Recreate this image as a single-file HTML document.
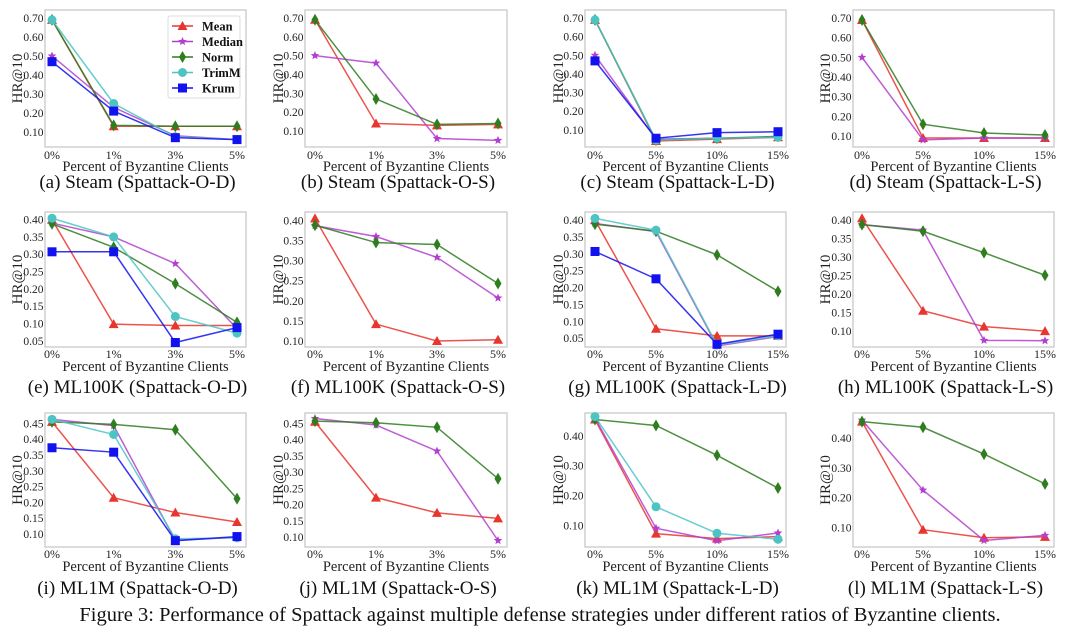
<!DOCTYPE html>
<html><head><meta charset="utf-8"><style>
body{margin:0;background:#fff}
svg{display:block;font-family:"Liberation Serif",serif}
</style></head><body>
<svg id="fig" width="1080" height="635" viewBox="0 0 1080 635" xmlns="http://www.w3.org/2000/svg"></svg>
<script>
const seriesNames = ["Mean","Median","Norm","TrimM","Krum"];
const colors = {Mean:"#e8352d",Median:"#b33fd0",Norm:"#2e7d1e",TrimM:"#4cc4c4",Krum:"#1212ee"};
const xTicksO = ["0%","1%","3%","5%"];
const xTicksL = ["0%","5%","10%","15%"];
const ticksSteam = [0.10,0.20,0.30,0.40,0.50,0.60,0.70];
const ticksE = [0.05,0.10,0.15,0.20,0.25,0.30,0.35,0.40];
const ticksF = [0.10,0.15,0.20,0.25,0.30,0.35,0.40];
const ticksI = [0.10,0.15,0.20,0.25,0.30,0.35,0.40,0.45];
const ticksK = [0.10,0.20,0.30,0.40];
const captions = ["(a)  Steam (Spattack-O-D)","(b)  Steam (Spattack-O-S)","(c)  Steam (Spattack-L-D)","(d)  Steam (Spattack-L-S)",
"(e)  ML100K (Spattack-O-D)","(f)  ML100K (Spattack-O-S)","(g)  ML100K (Spattack-L-D)","(h)  ML100K (Spattack-L-S)",
"(i)  ML1M (Spattack-O-D)","(j)  ML1M (Spattack-O-S)","(k)  ML1M (Spattack-L-D)","(l)  ML1M (Spattack-L-S)"];
const dataA = {Mean:[0.69,0.13,0.13,0.13],Median:[0.50,0.23,0.08,0.06],Norm:[0.69,0.135,0.13,0.13],TrimM:[0.69,0.25,0.075,0.06],Krum:[0.47,0.21,0.07,0.06]};
const dataB = {Mean:[0.69,0.14,0.13,0.135],Median:[0.50,0.46,0.06,0.05],Norm:[0.69,0.27,0.135,0.14]};
const dataC = {Mean:[0.69,0.04,0.05,0.06],Median:[0.50,0.05,0.055,0.06],Norm:[0.69,0.045,0.055,0.065],TrimM:[0.69,0.045,0.055,0.06],Krum:[0.47,0.055,0.085,0.09]};
const dataD = {Mean:[0.69,0.09,0.09,0.09],Median:[0.50,0.08,0.09,0.09],Norm:[0.69,0.16,0.115,0.105]};
const dataE = {Mean:[0.40,0.098,0.094,0.094],Median:[0.39,0.35,0.273,0.085],Norm:[0.388,0.32,0.215,0.103],TrimM:[0.404,0.35,0.12,0.072],Krum:[0.307,0.307,0.045,0.088]};
const dataF = {Mean:[0.405,0.142,0.10,0.103],Median:[0.387,0.36,0.308,0.207],Norm:[0.388,0.345,0.34,0.243]};
const dataG = {Mean:[0.40,0.078,0.057,0.057],Median:[0.39,0.366,0.027,0.055],Norm:[0.388,0.367,0.297,0.189],TrimM:[0.405,0.37,0.03,0.057],Krum:[0.307,0.226,0.032,0.062]};
const dataH = {Mean:[0.405,0.155,0.112,0.10],Median:[0.388,0.373,0.075,0.074],Norm:[0.388,0.37,0.312,0.251]};
const dataI = {Mean:[0.455,0.215,0.168,0.138],Median:[0.463,0.443,0.08,0.09],Norm:[0.455,0.447,0.43,0.212],TrimM:[0.463,0.415,0.085,0.088],Krum:[0.373,0.359,0.079,0.092]};
const dataJ = {Mean:[0.455,0.222,0.175,0.158],Median:[0.465,0.445,0.365,0.09],Norm:[0.457,0.452,0.438,0.28]};
const dataK = {Mean:[0.455,0.072,0.055,0.062],Median:[0.46,0.09,0.048,0.074],Norm:[0.455,0.435,0.335,0.225],TrimM:[0.465,0.162,0.073,0.053]};
const dataL = {Mean:[0.455,0.092,0.065,0.068],Median:[0.46,0.225,0.056,0.073],Norm:[0.455,0.436,0.346,0.246]};

const NS="http://www.w3.org/2000/svg";
const svg=document.getElementById('fig');
function mk(tag,attrs,parent,txt){const e=document.createElementNS(NS,tag);for(const k in attrs)e.setAttribute(k,attrs[k]);if(txt!==undefined)e.textContent=txt;(parent||svg).appendChild(e);return e;}
const cols=[{b0:45,b1:246,t0:52,t1:237,yl:17},{b0:305,b1:507,t0:315,t1:498,yl:278},{b0:585,b1:786,t0:595,t1:778,yl:558},{b0:853,b1:1054,t0:862,t1:1045,yl:825}];
const rows=[{y0:10,y1:147,tk:155,ti:166,cap:188},{y0:212,y1:347,tk:354,ti:366,cap:393},{y0:413,y1:547,tk:554,ti:566,cap:594}];
const panels=[
 {d:dataA,t:ticksSteam,lo:0.021,hi:0.742,x:xTicksO},{d:dataB,t:ticksSteam,lo:0.015,hi:0.742,x:xTicksO},{d:dataC,t:ticksSteam,lo:0.008,hi:0.743,x:xTicksL},{d:dataD,t:ticksSteam,lo:0.044,hi:0.741,x:xTicksL},
 {d:dataE,t:ticksE,lo:0.032,hi:0.422,x:xTicksO},{d:dataF,t:ticksF,lo:0.085,hi:0.421,x:xTicksO},{d:dataG,t:ticksE,lo:0.024,hi:0.424,x:xTicksL},{d:dataH,t:ticksF,lo:0.057,hi:0.422,x:xTicksL},
 {d:dataI,t:ticksI,lo:0.059,hi:0.483,x:xTicksO},{d:dataJ,t:ticksI,lo:0.070,hi:0.482,x:xTicksO},{d:dataK,t:ticksK,lo:0.027,hi:0.477,x:xTicksL},{d:dataL,t:ticksK,lo:0.034,hi:0.484,x:xTicksL}];
function marker(g,name,x,y){
 const c=colors[name];
 if(name==="Mean"){const m=mk('polygon',{points:`${x},${y-5} ${x-5},${y+4} ${x+5},${y+4}`,fill:c},g);}
 else if(name==="Median"){let p=[];for(let i=0;i<10;i++){const r=i%2?2:4.5,a=-Math.PI/2+i*Math.PI/5;p.push((x+r*Math.cos(a)).toFixed(1)+','+(y+r*Math.sin(a)).toFixed(1));}const m=mk('polygon',{points:p.join(' '),fill:c},g);}
 else if(name==="Norm"){const m=mk('polygon',{points:`${x},${y-6} ${x+3.5},${y} ${x},${y+6} ${x-3.5},${y}`,fill:c},g);}
 else if(name==="TrimM"){const m=mk('circle',{cx:x,cy:y,r:4.5,fill:c},g);}
 else {const m=mk('rect',{x:x-4.5,y:y-4.5,width:9,height:9,fill:c},g);}
}
panels.forEach((p,i)=>{
 const C=cols[i%4],R=rows[Math.floor(i/4)];
 const g=mk('g',{});
 
 
 const ys=v=>R.y1-(v-p.lo)/(p.hi-p.lo)*(R.y1-R.y0);
 const xs=k=>C.t0+k*(C.t1-C.t0)/3;
 const box=mk('rect',{x:C.b0,y:R.y0,width:C.b1-C.b0,height:R.y1-R.y0,fill:'none',stroke:'#c8c8c8','stroke-width':1.3},g);
 
 p.t.forEach(v=>{const t=mk('text',{x:C.b0-1.5,y:ys(v)+4,'text-anchor':'end','font-size':11.5,fill:'#222'},g,v.toFixed(2));});
 p.x.forEach((s,k)=>{const t=mk('text',{x:xs(k),y:R.tk+4,'text-anchor':'middle','font-size':12,fill:'#222'},g,s);});
 const xt=mk('text',{x:(C.b0+C.b1)/2,y:R.ti+5,'text-anchor':'middle','font-size':14.5,fill:'#222'},g,'Percent of Byzantine Clients');
 
 const cy=(R.y0+R.y1)/2;
 const yt=mk('text',{x:C.yl+5,y:cy,'text-anchor':'middle','font-size':15,fill:'#222',transform:`rotate(-90 ${C.yl+5} ${cy})`},g,'HR@10');
 
 const cap=mk('text',{x:(C.b0+C.b1)/2-8,y:R.cap,'text-anchor':'middle','font-size':19,fill:'#111'},g,captions[i]);
 
 seriesNames.forEach(n=>{
  const vals=p.d[n];if(!vals)return;
  const sg=mk('g',{},g);
  
  const pl=mk('polyline',{points:vals.map((v,k)=>xs(k)+','+ys(v)).join(' '),fill:'none',stroke:colors[n],'stroke-width':1.5,'stroke-opacity':0.85},sg);
  
  vals.forEach((v,k)=>marker(sg,n,xs(k),ys(v)));
 });
 if(i===0){
  const lg=mk('g',{},g);
  
  mk('rect',{x:168,y:16,width:72,height:82,fill:'#fff',stroke:'#ddd','stroke-width':1,rx:2},lg);
  seriesNames.forEach((n,k)=>{
   const y=26+k*15.5;
   const e=mk('g',{},lg);
   
   mk('line',{x1:172,y1:y,x2:193,y2:y,stroke:colors[n],'stroke-width':1.5},e);
   marker(e,n,182.5,y);
   mk('text',{x:202,y:y+4.5,'font-size':12.5,'font-weight':'bold',fill:'#111'},e,n);
  });
 }
});
const fc=mk('text',{x:540,y:621,'text-anchor':'middle','font-size':20.5,fill:'#111'},svg,'Figure 3: Performance of Spattack against multiple defense strategies under different ratios of Byzantine clients.');

</script>
</body></html>
